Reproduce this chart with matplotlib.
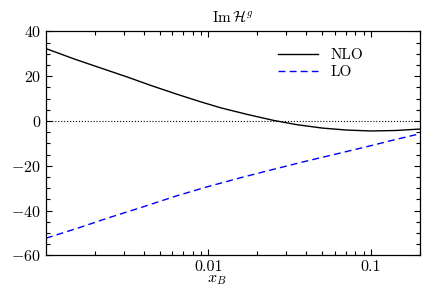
import matplotlib
matplotlib.use('Agg')
import matplotlib.pyplot as plt
from matplotlib.ticker import MultipleLocator, LogLocator, FixedLocator, NullFormatter

plt.rcParams['font.family'] = 'serif'
plt.rcParams['font.serif'] = ['cmr10', 'DejaVu Serif']
plt.rcParams['mathtext.fontset'] = 'cm'
plt.rcParams['axes.formatter.use_mathtext'] = True
plt.rcParams['font.size'] = 11.5

# values
x_nlo = [0.001, 0.0015, 0.0022, 0.0032, 0.0044, 0.0063, 0.0089, 0.012, 0.0174,
         0.025, 0.035, 0.05, 0.071, 0.1, 0.141, 0.2]
y_nlo = [32.3, 27.6, 23.5, 19.5, 15.9, 12.1, 8.6, 5.8, 2.9,
         0.3, -1.65, -3.15, -4.05, -4.45, -4.25, -3.6]

x_lo = [0.001, 0.0016, 0.0024, 0.004, 0.0063, 0.01, 0.0158, 0.025, 0.04,
        0.063, 0.1, 0.141, 0.2]
y_lo = [-52.3, -47.6, -43.3, -38.2, -33.5, -29.2, -25.3, -21.6, -17.9,
        -14.5, -11.0, -8.3, -5.7]

x_ticks = [0.01, 0.1]
x_ticklabels = ['0.01', '0.1']

fig = plt.figure(figsize=(4.42, 2.90), dpi=100)
ax = fig.add_axes([0.104, 0.119, 0.846, 0.773])

ax.axhline(0, color='black', linestyle=':', linewidth=0.8)
ax.plot(x_nlo, y_nlo, color='black', linewidth=1.0, label='NLO')
ax.plot(x_lo, y_lo, color='blue', linestyle=(0, (5, 3)), linewidth=1.0, label='LO')

ax.set_xscale('log')
ax.set_xlim(0.001, 0.2)
ax.set_ylim(-60, 40)

ax.xaxis.set_major_locator(FixedLocator(x_ticks))
ax.set_xticklabels(x_ticklabels)
ax.xaxis.set_minor_locator(LogLocator(base=10, subs=range(2, 10)))
ax.xaxis.set_minor_formatter(NullFormatter())
ax.yaxis.set_major_locator(MultipleLocator(20))
ax.yaxis.set_minor_locator(MultipleLocator(5))

ax.tick_params(which='both', direction='in', top=True, right=True)
ax.tick_params(which='major', length=4.5, width=0.8)
ax.tick_params(which='minor', length=2.8, width=0.8)
for s in ax.spines.values():
    s.set_linewidth(0.9)

ax.set_title(r'$\mathrm{Im}\,\mathcal{H}^g$', fontsize=11, pad=7)
ax.set_xlabel(r'$x_B$')
ax.xaxis.set_label_coords(0.457, -0.08)

ax.legend(loc='upper right', bbox_to_anchor=(0.885, 0.985), frameon=False,
          fontsize=11, handlelength=2.6, labelspacing=0.2)

fig.savefig('out.png', dpi=100)
